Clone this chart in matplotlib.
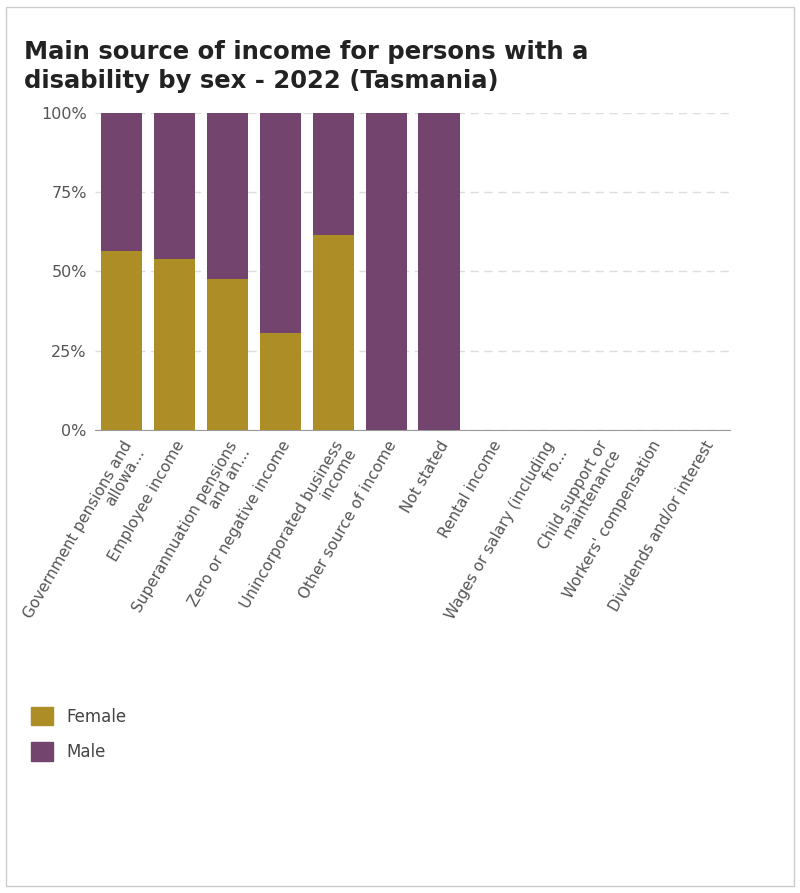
import matplotlib
matplotlib.use("Agg")
import matplotlib.pyplot as plt
from matplotlib.patches import Rectangle, Patch

categories = ["Government pensions and\nallowa...", "Employee income", "Superannuation pensions\nand an...",
              "Zero or negative income", "Unincorporated business\nincome", "Other source of income",
              "Not stated", "Rental income", "Wages or salary (including\nfro...", "Child support or\nmaintenance",
              "Workers' compensation", "Dividends and/or interest"]
female = [56.5, 54, 47.5, 30.5, 61.5, 0, 0, 0, 0, 0, 0, 0]
male = [43.5, 46, 52.5, 69.5, 38.5, 100, 100, 0, 0, 0, 0, 0]
yticks = [0, 25, 50, 75, 100]
ylabels = ["0%", "25%", "50%", "75%", "100%"]

FC, MC = "#AD8D26", "#73456E"
fig = plt.figure(figsize=(8, 8.93), dpi=100)
fig.patches.append(Rectangle((0.008, 0.008), 0.984, 0.984, transform=fig.transFigure,
                             fill=False, edgecolor="#cccccc", lw=1))
fig.text(0.03, 0.955, "Main source of income for persons with a\ndisability by sex - 2022 (Tasmania)",
         fontsize=17.5, fontweight="bold", color="#222222", va="top", linespacing=1.25)
ax = fig.add_axes([0.119, 0.5185, 0.7935, 0.355])
x = range(len(categories))
ax.bar(x, female, width=0.78, color=FC, zorder=3)
ax.bar(x, male, width=0.78, bottom=female, color=MC, zorder=3)
ax.set_xlim(-0.5, len(categories) - 0.5)
ax.set_ylim(0, 100)
ax.set_yticks(yticks)
ax.set_yticklabels(ylabels, fontsize=11.5, color="#555555")
ax.set_xticks(list(x))
ax.set_xticklabels(categories, rotation=60, ha="right", rotation_mode="anchor",
                   fontsize=11, color="#555555", linespacing=1.0)
ax.yaxis.grid(True, linestyle=(0, (6, 4)), color="#dddddd", lw=1)
ax.set_axisbelow(True)
for s in ["left", "right", "top"]:
    ax.spines[s].set_visible(False)
ax.spines["bottom"].set_color("#999999")
ax.tick_params(axis="both", length=0, pad=6)
fig.legend(handles=[Patch(color=FC, label="Female"), Patch(color=MC, label="Male")],
           loc="upper left", bbox_to_anchor=(0.02, 0.225), frameon=False, fontsize=12,
           handlelength=1.3, handleheight=1.3, labelspacing=1.0, labelcolor="#444444")
fig.savefig("out.png", dpi=100)
